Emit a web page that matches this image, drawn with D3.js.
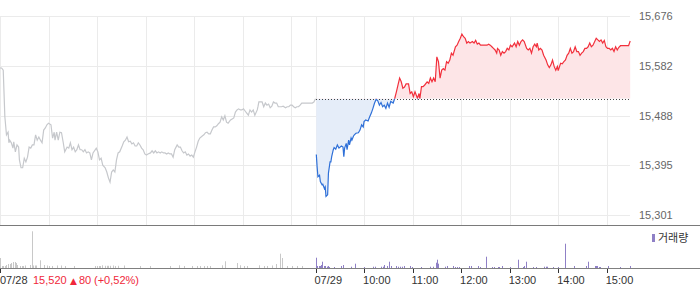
<!DOCTYPE html>
<html>
<head>
<meta charset="utf-8">
<script src="https://cdn.jsdelivr.net/npm/d3@7"></script>
<style>
  body { margin: 0; background: #fff; }
  svg { display: block; font-family: "Liberation Sans", Arial, sans-serif; }
</style>
</head>
<body>
<svg id="chart"></svg>
<script>
// price ticks on the right axis
const yTicks = [15301, 15395, 15488, 15582, 15676];
const yTickLabels = ['15,301', '15,395', '15,488', '15,582', '15,676'];
const prevClose = 15520;

// time labels (minutes since 09:00 on the two-day axis)
const timeTicks = [0, 390, 450, 510, 570, 630, 690, 750];
const timeLabels = ['07/28', '07/29', '10:00', '11:00', '12:00', '13:00', '14:00', '15:00'];
const gridMinutes = [0, 60, 120, 180, 240, 300, 360, 390, 450, 510, 570, 630, 690, 750];

// 07/28 price: [minute, price]
const prevDay = [[0,15578],[2,15578],[4,15574],[6,15486],[8,15452],[10,15457],[11,15437],[12,15442],[14,15437],[16,15427],[17,15439],[19,15420],[21,15433],[23,15429],[24,15405],[26,15390],[28,15390],[30,15408],[32,15401],[34,15410],[36,15429],[38,15427],[40,15433],[42,15433],[44,15452],[46,15442],[48,15448],[50,15442],[52,15437],[54,15461],[56,15465],[58,15471],[60,15474],[63,15471],[65,15446],[67,15457],[68,15442],[70,15457],[72,15442],[74,15457],[76,15456],[78,15439],[80,15420],[83,15429],[85,15427],[87,15437],[89,15424],[91,15429],[93,15420],[95,15424],[97,15433],[99,15424],[101,15424],[103,15420],[105,15424],[107,15418],[109,15420],[111,15418],[113,15405],[115,15418],[119,15427],[121,15420],[123,15405],[125,15408],[127,15395],[130,15390],[132,15382],[134,15371],[136,15363],[138,15382],[140,15386],[142,15382],[144,15405],[146,15418],[148,15420],[151,15431],[153,15439],[155,15442],[157,15448],[159,15439],[161,15440],[163,15435],[165,15437],[167,15431],[169,15431],[171,15437],[173,15433],[175,15427],[177,15424],[179,15416],[181,15414],[183,15416],[186,15418],[188,15422],[190,15418],[192,15422],[194,15418],[196,15420],[198,15418],[200,15420],[202,15418],[204,15418],[206,15416],[208,15418],[210,15416],[212,15416],[214,15410],[216,15424],[219,15433],[221,15429],[223,15429],[225,15422],[227,15418],[229,15420],[231,15414],[233,15416],[235,15412],[237,15414],[239,15410],[241,15420],[243,15429],[245,15440],[247,15446],[250,15450],[252,15452],[254,15456],[256,15457],[258,15454],[260,15454],[262,15461],[264,15467],[266,15467],[268,15469],[270,15473],[272,15476],[274,15486],[276,15480],[278,15488],[280,15476],[282,15474],[285,15480],[287,15482],[289,15484],[291,15495],[293,15499],[295,15501],[297,15499],[299,15499],[301,15501],[303,15497],[305,15493],[307,15489],[309,15499],[311,15495],[313,15499],[315,15489],[318,15499],[319,15506],[320,15514],[322,15514],[324,15514],[326,15505],[328,15512],[330,15508],[332,15510],[334,15503],[336,15506],[338,15514],[340,15512],[342,15512],[344,15505],[346,15505],[348,15505],[350,15506],[353,15503],[355,15505],[357,15505],[359,15508],[361,15508],[363,15505],[365,15503],[367,15505],[369,15505],[371,15508],[373,15512],[375,15512],[377,15512],[379,15512],[381,15512],[383,15512],[386,15512],[388,15514],[390,15520]];

// 07/29 price: [minute, price]
const today = [[1,15415],[2,15392],[3,15373],[5,15376],[6,15364],[8,15358],[9,15359],[11,15351],[12,15354],[13,15336],[15,15339],[16,15380],[18,15401],[19,15401],[20,15411],[22,15424],[23,15428],[25,15425],[27,15433],[29,15427],[32,15431],[34,15429],[35,15411],[36,15427],[38,15436],[39,15424],[41,15442],[42,15433],[44,15446],[45,15442],[47,15450],[48,15452],[50,15455],[53,15456],[55,15461],[57,15471],[59,15467],[60,15477],[62,15480],[65,15478],[67,15486],[69,15493],[71,15502],[73,15512],[75,15519],[77,15516],[79,15508],[81,15513],[83,15505],[85,15508],[87,15502],[89,15512],[91,15504],[93,15515],[96,15512],[98,15521],[100,15533],[102,15546],[104,15559],[106,15552],[108,15540],[110,15542],[112,15548],[115,15548],[117,15530],[119,15533],[121,15524],[123,15533],[126,15521],[128,15530],[129,15520],[131,15543],[133,15543],[135,15546],[138,15552],[140,15549],[142,15559],[144,15552],[146,15559],[148,15552],[150,15599],[152,15590],[154,15559],[156,15574],[158,15577],[160,15574],[162,15590],[164,15587],[166,15593],[168,15606],[170,15602],[173,15618],[175,15621],[177,15628],[179,15634],[181,15642],[183,15637],[185,15634],[187,15625],[189,15628],[191,15625],[194,15628],[196,15625],[198,15630],[200,15623],[202,15625],[204,15621],[208,15621],[212,15621],[214,15623],[216,15621],[218,15618],[220,15615],[222,15612],[224,15606],[225,15615],[227,15612],[229,15602],[231,15609],[233,15606],[235,15609],[237,15615],[239,15612],[241,15621],[243,15618],[246,15625],[248,15618],[250,15628],[252,15621],[254,15628],[256,15631],[258,15628],[261,15615],[263,15612],[265,15615],[267,15606],[269,15618],[271,15623],[273,15618],[274,15625],[276,15612],[278,15615],[280,15612],[282,15602],[285,15593],[287,15584],[289,15579],[291,15584],[293,15593],[295,15581],[297,15574],[299,15581],[300,15573],[303,15587],[305,15586],[307,15590],[309,15593],[311,15602],[313,15606],[315,15615],[317,15606],[319,15609],[321,15618],[323,15609],[325,15609],[327,15602],[329,15606],[331,15609],[333,15615],[335,15615],[337,15618],[339,15625],[341,15618],[343,15621],[347,15634],[349,15631],[351,15628],[353,15631],[355,15625],[357,15630],[359,15618],[361,15615],[363,15615],[365,15612],[367,15615],[369,15609],[371,15618],[373,15612],[375,15617],[377,15620],[380,15620],[384,15620],[387,15620],[389,15629]];

// volume: [minute, shares]
const prevVolume = [[0,1000],[2,200],[4,200],[6,200],[8,300],[10,400],[12,400],[14,500],[16,600],[19,600],[20,500],[21,300],[25,200],[27,200],[29,200],[31,250],[37,300],[40,3670],[41,250],[43,250],[45,250],[50,770],[54,300],[58,250],[60,200],[64,200],[70,250],[76,250],[80,200],[91,200],[118,200],[120,200],[122,200],[124,200],[126,270],[130,220],[132,220],[134,220],[136,220],[140,250],[142,200],[146,220],[153,250],[173,200],[186,200],[210,200],[221,270],[227,200],[237,200],[243,200],[247,200],[252,200],[256,200],[260,200],[274,270],[278,670],[293,500],[297,270],[301,200],[305,200],[320,270],[326,200],[330,200],[336,250],[341,400],[346,1430],[348,1000],[355,200],[361,200],[367,200],[373,200]];
const todayVolume = [[1,1030],[2,200],[4,200],[6,200],[7,300],[8,630],[10,200],[12,200],[14,130],[16,200],[17,100],[23,100],[32,200],[34,300],[44,130],[49,430],[60,100],[71,130],[74,130],[81,130],[83,130],[85,300],[89,200],[91,630],[93,200],[99,200],[100,130],[102,130],[105,130],[107,130],[109,200],[117,200],[119,100],[131,100],[142,130],[145,130],[149,530],[150,830],[152,430],[160,130],[162,200],[170,200],[172,100],[175,100],[178,100],[190,200],[192,200],[201,200],[203,100],[211,1130],[218,100],[221,100],[225,100],[227,100],[231,200],[240,100],[250,830],[256,100],[258,200],[260,630],[269,100],[272,100],[283,130],[285,130],[286,130],[294,100],[300,100],[308,2430],[320,200],[334,200],[337,630],[345,200],[347,200],[348,200],[350,100],[352,100],[361,200],[377,100],[389,200]];

const W = 700, H = 289;
const svg = d3.select('#chart').attr('width', W).attr('height', H);

const x = d3.scaleLinear().domain([0, 780]).range([0, 631]);
const y = d3.scaleLinear().domain([15301, 15676]).range([215, 16]);
const vy = d3.scaleLinear().domain([0, 4000]).range([268, 228]);
const crisp = v => Math.round(v) + 0.5;
const yBase = y(prevClose);

// grid
svg.append('g').selectAll('line').data(yTicks).join('line')
    .attr('x1', 0).attr('x2', 630)
    .attr('y1', d => crisp(y(d))).attr('y2', d => crisp(y(d)))
    .attr('stroke', '#ebebeb');
svg.append('g').selectAll('line').data(gridMinutes).join('line')
    .attr('x1', d => crisp(x(d))).attr('x2', d => crisp(x(d)))
    .attr('y1', 16).attr('y2', 225)
    .attr('stroke', '#ebebeb');

// y labels
svg.append('g').selectAll('text').data(yTicks).join('text')
    .attr('x', 639).attr('y', d => y(d)).attr('dy', '0.36em')
    .attr('font-size', 11).attr('fill', '#666')
    .text((d, i) => yTickLabels[i]);

// clip areas above / below previous close
const defs = svg.append('defs');
defs.append('clipPath').attr('id', 'above')
    .append('rect').attr('x', 0).attr('y', 0).attr('width', W).attr('height', yBase);
defs.append('clipPath').attr('id', 'below')
    .append('rect').attr('x', 0).attr('y', yBase).attr('width', W).attr('height', H - yBase);

const tx = d => x(390 + d[0]);
const area = d3.area().x(tx).y0(yBase).y1(d => y(d[1]));
const line = d3.line().x(tx).y(d => y(d[1]));

svg.append('path').datum(today).attr('d', area)
    .attr('fill', '#fde5e7').attr('clip-path', 'url(#above)');
svg.append('path').datum(today).attr('d', area)
    .attr('fill', '#e5edf9').attr('clip-path', 'url(#below)');

// previous close dotted line
svg.append('line')
    .attr('x1', Math.round(x(390))).attr('x2', Math.round(x(780)))
    .attr('y1', crisp(yBase)).attr('y2', crisp(yBase))
    .attr('stroke', '#444').attr('stroke-dasharray', '1,2');

// previous day line
svg.append('path').datum(prevDay)
    .attr('d', d3.line().x(d => x(d[0])).y(d => y(d[1])))
    .attr('fill', 'none').attr('stroke', '#c6c8cc').attr('stroke-width', 1.2);

svg.append('path').datum(today).attr('d', line)
    .attr('fill', 'none').attr('stroke', '#f2303c').attr('stroke-width', 1.2)
    .attr('clip-path', 'url(#above)');
svg.append('path').datum(today).attr('d', line)
    .attr('fill', 'none').attr('stroke', '#2f70d8').attr('stroke-width', 1.2)
    .attr('clip-path', 'url(#below)');

// separator
svg.append('line').attr('x1', 0).attr('x2', W).attr('y1', 225.5).attr('y2', 225.5)
    .attr('stroke', '#7a7a7a');

// volume bars
svg.append('g').selectAll('rect').data(prevVolume).join('rect')
    .attr('x', d => Math.round(x(d[0]))).attr('width', 1)
    .attr('y', d => vy(d[1])).attr('height', d => 268 - vy(d[1]))
    .attr('fill', '#c8c8c8');
svg.append('g').selectAll('rect').data(todayVolume).join('rect')
    .attr('x', d => Math.round(x(390 + d[0]))).attr('width', 1)
    .attr('y', d => vy(d[1])).attr('height', d => 268 - vy(d[1]))
    .attr('fill', '#8f80c6');

// volume axis
svg.append('line').attr('x1', 0).attr('x2', W).attr('y1', 268.5).attr('y2', 268.5)
    .attr('stroke', '#808080');
svg.append('g').selectAll('line').data(timeTicks).join('line')
    .attr('x1', d => crisp(x(d))).attr('x2', d => crisp(x(d)))
    .attr('y1', 269).attr('y2', 273)
    .attr('stroke', '#333');
svg.append('g').selectAll('text').data(timeTicks).join('text')
    .attr('x', d => Math.max(0, x(d) - 1)).attr('y', 284)
    .attr('font-size', 11).attr('fill', '#333')
    .text((d, i) => timeLabels[i]);

// previous close info
const info = svg.append('text').attr('y', 284).attr('font-size', 11).attr('fill', '#f0283a');
info.append('tspan').attr('x', 33).text('15,520');
info.append('tspan').attr('x', 70).attr('font-size', 9).attr('font-family', 'DejaVu Sans').text('▲');
info.append('tspan').attr('x', 79).text('80');
info.append('tspan').attr('x', 94).text('(+0,52%)');

// legend
svg.append('rect').attr('x', 652).attr('y', 234).attr('width', 3).attr('height', 8).attr('fill', '#8f80c6');
svg.append('text').attr('x', 658).attr('y', 242)
    .attr('font-size', 11).attr('fill', '#333')
    .attr('font-family', '"Noto Sans CJK KR", sans-serif')
    .text('거래량');
</script>
</body>
</html>
